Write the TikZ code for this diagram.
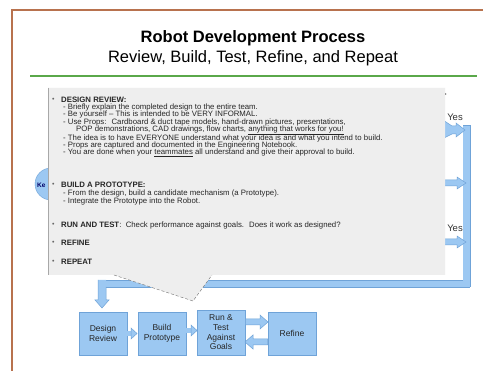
\documentclass[tikz,border=0pt]{standalone}
\usepackage{fontspec}
\setmainfont{Liberation Sans}
\definecolor{frame}{HTML}{B8724E}
\definecolor{rule}{HTML}{5AA84A}
\definecolor{flow}{HTML}{9CC8F2}
\definecolor{flowedge}{HTML}{6FA3D8}
\definecolor{note}{HTML}{EEEEEE}
\definecolor{noteedge}{HTML}{A8A8A8}
\tikzset{
  stepbox/.style={draw=flowedge, fill=flow, line width=0.8pt, minimum width=48pt,
    minimum height=43pt, align=center, font=\fontsize{8.5}{9.6}\selectfont, text=black!85, inner sep=1pt},
  blockarrow/.style={fill=flow, draw=flowedge, line width=0.5pt},
  notetext/.style={anchor=west, inner sep=0pt, font=\fontsize{7.8}{8.5}\selectfont, text=black!85},
  dot/.style={anchor=west, inner sep=0pt, font=\fontsize{7}{8}\selectfont, text=black!60},
  yeslabel/.style={font=\fontsize{9.5}{10}\selectfont, text=black!80, inner sep=0pt}
}
\begin{document}
\begin{tikzpicture}[x=1pt,y=-1pt]
\useasboundingbox (0,0) rectangle (483,371);
\fill[white] (0,0) rectangle (483,371);

% page frame
\draw[frame, line width=1.6pt] (12,372) -- (12,10) -- (484,10);

% heading
\node[font=\bfseries\fontsize{16.5}{18}\selectfont] (title) at (253,38) {Robot Development Process};
\node[font=\fontsize{16.5}{18}\selectfont] (subtitle) at (253,58) {Review, Build, Test, Refine, and Repeat};
\draw[rule, line width=1.4pt] (30,76) -- (477,76);

% key marker on the left
\node[circle, fill=flow, draw=flowedge, line width=0.4pt, minimum size=32pt, inner sep=0pt] (key) at (51,184) {};
\node[font=\bfseries\fontsize{6.5}{7}\selectfont, text=blue!40!black, anchor=west, inner sep=0pt] (keytext) at (37,185) {Ke};

% feedback loop on the right and bottom
\fill[flow] (463,125) rectangle (470,287);
\draw[flowedge, line width=0.5pt] (463,125) -- (470,125) -- (470,287);
\fill[flow] (98,280) rectangle (470,287);
\draw[flowedge, line width=0.5pt] (98,280) -- (463,280);
\draw[flowedge, line width=0.5pt] (106,287) -- (470,287);
\fill[flow] (98,280) -- (106,280) -- (106,300) -- (109,300) -- (102,308) -- (95,300) -- (98,300) -- cycle;
\draw[flowedge, line width=0.5pt] (98,280) -- (98,300) -- (95,300) -- (102,308) -- (109,300) -- (106,300) -- (106,287);

% arrows leaving the stages into the loop
\draw[blockarrow] (440,118) -- (452,126) -- (456,126) -- (456,123) -- (465,130) -- (456,137) -- (456,134) -- (452,134) -- (440,140) -- cycle;
\draw[blockarrow] (440,180) -- (457,180) -- (457,177) -- (466,183) -- (457,189) -- (457,186) -- (440,186) -- cycle;
\draw[blockarrow] (440,239) -- (457,239) -- (457,236) -- (466,242) -- (457,248) -- (457,245) -- (440,245) -- cycle;
\node[yeslabel] (yes1) at (455,117) {Yes};
\node[yeslabel] (yes2) at (455,228) {Yes};
\node[font=\fontsize{6}{7}\selectfont, inner sep=0pt] (chev) at (445,95) {>};

% stage boxes
\node[stepbox] (review) at (103,333.5) {Design\\Review};
\node[stepbox] (build) at (162,333.5) {Build\\Prototype};
\node[stepbox, minimum height=45pt] (test) at (221,332.5) {Run \&\\Test\\Against\\Goals};
\node[stepbox] (refine) at (292,333.5) {Refine};

% arrows between stages
\fill[flow] (review.east |- 0,331) rectangle (133,336);
\draw[blockarrow] (131,328) -- (137,333.5) -- (131,339) -- cycle;
\fill[flow] (build.east |- 0,328) rectangle (193,333);
\draw[blockarrow] (191,325) -- (197,330.5) -- (191,336) -- cycle;
\draw[blockarrow] (test.east |- 0,319) -- (260,319) -- (260,315) -- (268,322) -- (260,329) -- (260,325) -- (test.east |- 0,325) -- cycle;
\draw[blockarrow] (refine.west |- 0,339) -- (253,339) -- (253,335) -- (245,342) -- (253,349) -- (253,345) -- (refine.west |- 0,345) -- cycle;

% callout with the stage notes
\fill[note] (48,88) -- (445,88) -- (445,275) -- (212,275) -- (193,301) -- (114,275) -- (48,275) -- cycle;
\draw[noteedge, line width=0.6pt] (48,88) -- (48,275);
\draw[black!55, densely dashed, line width=0.4pt] (114,275) -- (193,301) -- (212,275);

\node[dot] (b1) at (52,100) {\textbullet};
\node[notetext] (t1) at (61,100) {\textbf{DESIGN REVIEW:}};
\node[notetext] (t2) at (63,107.5) {- Briefly explain the completed design to the entire team.};
\node[notetext] (t3) at (63,114.5) {- Be yourself -- This is intended to be VERY INFORMAL.};
\node[notetext] (t4) at (63,122) {- Use Props: \ Cardboard \& duct tape models, hand-drawn pictures, presentations,};
\node[notetext] (t5) at (76,130) {POP demonstrations, CAD drawings, flow charts, \underline{anything that works for you!}};
\node[notetext] (t6) at (63,138) {- The idea is to have EVERYONE understand what your idea is and what you intend to build.};
\node[notetext] (t7) at (63,145) {- Props are captured and documented in the Engineering Notebook.};
\node[notetext] (t8) at (63,152.5) {- You are done when your \underline{teammates} all understand and give their approval to build.};

\node[dot] (b2) at (52,185) {\textbullet};
\node[notetext] (t9) at (61,185) {\textbf{BUILD A PROTOTYPE:}};
\node[notetext] (t10) at (63,193) {- From the design, build a candidate mechanism (a Prototype).};
\node[notetext] (t11) at (63,201) {- Integrate the Prototype into the Robot.};

\node[dot] (b3) at (52,225) {\textbullet};
\node[notetext] (t12) at (61,225) {\textbf{RUN AND TEST}: \ Check performance against goals. \ Does it work as designed?};

\node[dot] (b4) at (52,243) {\textbullet};
\node[notetext] (t13) at (61,243) {\textbf{REFINE}};

\node[dot] (b5) at (52,262) {\textbullet};
\node[notetext] (t14) at (61,262) {\textbf{REPEAT}};
\end{tikzpicture}
\end{document}
